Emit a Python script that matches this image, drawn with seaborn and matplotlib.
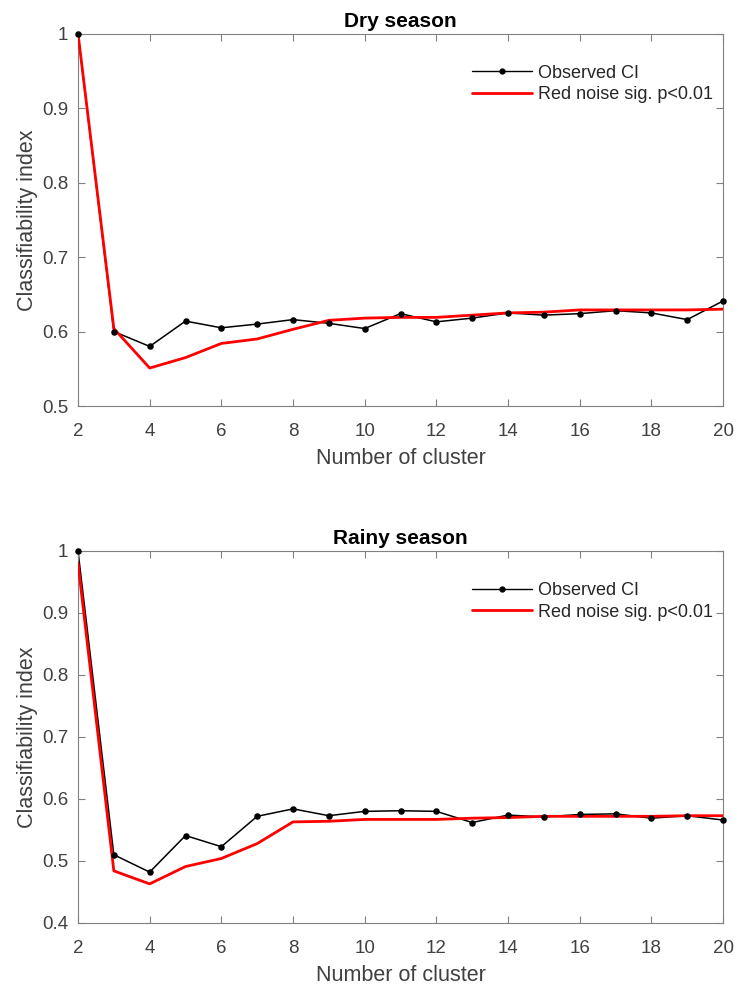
import numpy as np
import pandas as pd
import matplotlib
matplotlib.use("Agg")
import matplotlib.pyplot as plt
from matplotlib.lines import Line2D
import seaborn as sns

# Number of clusters tested
clusters = list(range(2, 21))

# Dry season classifiability index
dry_observed = [1.000, 0.600, 0.580, 0.614, 0.605, 0.610, 0.616, 0.611, 0.604, 0.624,
                0.613, 0.618, 0.625, 0.622, 0.624, 0.628, 0.625, 0.616, 0.641]
dry_rednoise = [1.000, 0.604, 0.551, 0.565, 0.584, 0.590, 0.603, 0.615, 0.618, 0.619,
                0.619, 0.622, 0.625, 0.626, 0.629, 0.629, 0.629, 0.629, 0.630]

# Rainy season classifiability index
rainy_observed = [1.000, 0.510, 0.482, 0.541, 0.523, 0.572, 0.584, 0.573, 0.580, 0.581,
                  0.580, 0.562, 0.574, 0.571, 0.575, 0.576, 0.569, 0.573, 0.566]
rainy_rednoise = [0.980, 0.484, 0.463, 0.491, 0.504, 0.528, 0.563, 0.564, 0.567, 0.567,
                  0.567, 0.569, 0.570, 0.572, 0.572, 0.572, 0.572, 0.573, 0.573]

titles = ["Dry season", "Rainy season"]
y_limits = [(0.5, 1.0), (0.4, 1.0)]
x_ticks = list(range(2, 21, 2))
legend_labels = ["Observed CI", "Red noise sig. p<0.01"]

sns.set_theme(style="white")
plt.rcParams["font.family"] = ["Liberation Sans", "DejaVu Sans"]

text_grey = "#404040"
spine_grey = "#808080"

fig = plt.figure(figsize=(7.38, 9.92), dpi=100)
ax_top = fig.add_axes([0.1057, 0.5907, 0.8740, 0.3755])
ax_bot = fig.add_axes([0.1057, 0.0696, 0.8740, 0.3750])

panels = [
    (ax_top, dry_observed, dry_rednoise),
    (ax_bot, rainy_observed, rainy_rednoise),
]

for i, (ax, obs, red) in enumerate(panels):
    df = pd.DataFrame({"cluster": clusters, "observed": obs, "rednoise": red})

    sns.lineplot(data=df, x="cluster", y="observed", color="black",
                 linewidth=1.1, ax=ax, zorder=2)
    sns.lineplot(data=df, x="cluster", y="rednoise", color="#ff0000",
                 linewidth=2.0, ax=ax, zorder=3)
    sns.scatterplot(data=df, x="cluster", y="observed", color="black",
                    s=22, edgecolor="black", linewidth=0, ax=ax, zorder=4,
                    clip_on=False)

    ax.set_xlim(2, 20)
    ax.set_ylim(*y_limits[i])
    ax.set_xticks(x_ticks)
    ax.set_xticklabels([str(t) for t in x_ticks])
    yt = np.round(np.arange(y_limits[i][0], y_limits[i][1] + 1e-9, 0.1), 1)
    ax.set_yticks(yt)
    ax.set_yticklabels(["1" if v == 1.0 else f"{v:.1f}" for v in yt])

    for s in ax.spines.values():
        s.set_color(spine_grey)
        s.set_linewidth(0.8)
    ax.tick_params(axis="both", which="both", direction="in", length=5,
                   width=0.8, color=spine_grey, labelsize=13.5,
                   labelcolor=text_grey, top=True, right=True,
                   bottom=True, left=True)
    ax.tick_params(axis="x", pad=12)
    ax.tick_params(axis="y", pad=7)

    ax.set_xlabel("Number of cluster", fontsize=15.5, color=text_grey, labelpad=6)
    ax.set_ylabel("Classifiability index", fontsize=15.5, color=text_grey, labelpad=3)
    ax.set_title(titles[i], fontsize=15, fontweight="bold", color="black", pad=5)

    handles = [
        Line2D([0], [0], color="black", linewidth=1.0, marker="o",
               markersize=3.5, markerfacecolor="black"),
        Line2D([0], [0], color="#ff0000", linewidth=2.0),
    ]
    ax.legend(handles, legend_labels, loc="upper left",
              bbox_to_anchor=(0.611, 0.916), frameon=False, fontsize=13,
              handlelength=3.3, handletextpad=0.33, labelspacing=0.25,
              borderpad=0, borderaxespad=0, labelcolor="#262626")

fig.savefig("out.png", dpi=100)
